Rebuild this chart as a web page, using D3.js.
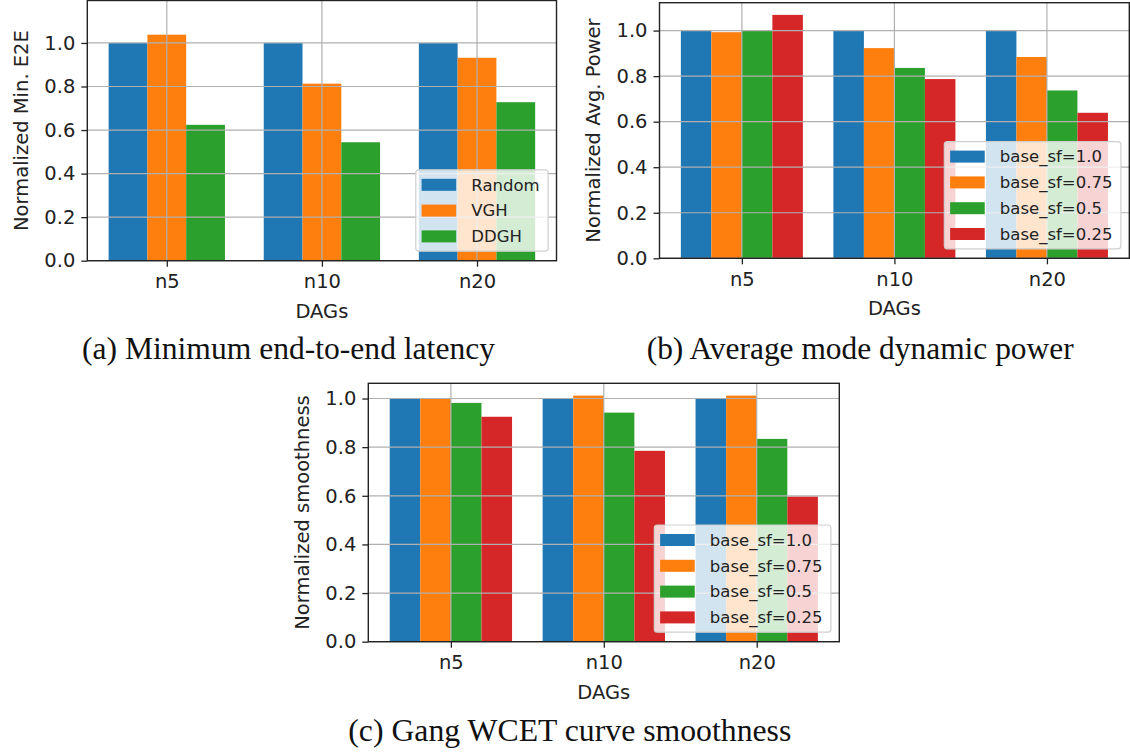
<!DOCTYPE html>
<html>
<head>
<meta charset="utf-8">
<script src="https://cdn.jsdelivr.net/npm/d3@7"></script>
<style>
  body { margin: 0; background: #fff; }
  .tick text { font-family: "DejaVu Sans", sans-serif; font-size: 19.5px; fill: #222; }
  .tick line { stroke: #222; stroke-width: 1.3; }
  .axis-label { font-family: "DejaVu Sans", sans-serif; font-size: 19.5px; fill: #222; }
  .legend text { font-family: "DejaVu Sans", sans-serif; font-size: 16.5px; fill: #222; }
  .caption { font-family: "Liberation Serif", serif; font-size: 31px; fill: #111; }
</style>
</head>
<body>
<svg id="chart" width="1130" height="753"></svg>
<script>
// categories and tick labels
const dags = ["n5", "n10", "n20"];
const yTicks = [0, 0.2, 0.4, 0.6, 0.8, 1.0];
const methodNames = ["Random", "VGH", "DDGH"];
const sfNames = ["base_sf=1.0", "base_sf=0.75", "base_sf=0.5", "base_sf=0.25"];

// (a) normalized minimum e2e latency
const e2eRandom = [1.0, 1.0, 1.0];
const e2eVGH = [1.038, 0.813, 0.932];
const e2eDDGH = [0.624, 0.544, 0.728];

// (b) normalized average power
const powerSf100 = [1.0, 1.0, 1.0];
const powerSf075 = [0.993, 0.923, 0.884];
const powerSf050 = [0.999, 0.836, 0.737];
const powerSf025 = [1.069, 0.787, 0.639];

// (c) normalized smoothness
const smoothSf100 = [1.0, 1.0, 1.0];
const smoothSf075 = [0.999, 1.012, 1.012];
const smoothSf050 = [0.982, 0.942, 0.834];
const smoothSf025 = [0.925, 0.785, 0.597];

const captions = ["(a) Minimum end-to-end latency", "(b) Average mode dynamic power", "(c) Gang WCET curve smoothness"];

const colors = ["#1f77b4", "#ff7f0e", "#2ca02c", "#d62728"];

let svg = d3.select("#chart");

svg.append("rect").attr("width", 1130).attr("height", 753).attr("fill", "#fff");

function drawPanel(box, names, series, ylabel, yMax) {
  let n = series.length;
  let barW = n == 3 ? 0.25 : 0.2;
  let half = (n * barW) / 2;
  let margin = (dags.length - 1 + 2 * half) * 0.05;

  let x = d3.scaleLinear()
    .domain([-half - margin, dags.length - 1 + half + margin])
    .range([box.left, box.right]);

  let top = yMax || d3.max(series.flat()) * 1.05;
  let y = d3.scaleLinear()
    .domain([0, top])
    .range([box.bottom, box.top]);

  let g = svg.append("g");

  // bars
  series.forEach((vals, s) => {
    g.selectAll(".bar" + s)
      .data(vals)
      .enter().append("rect")
      .attr("x", (d, i) => x(i - half + s * barW))
      .attr("width", x(barW) - x(0))
      .attr("y", d => y(d))
      .attr("height", d => y(0) - y(d))
      .attr("fill", colors[s]);
  });

  // grid on top of bars
  g.selectAll(".gy")
    .data(yTicks)
    .enter().append("line")
    .attr("x1", box.left).attr("x2", box.right)
    .attr("y1", d => y(d)).attr("y2", d => y(d))
    .attr("stroke", "#b0b0b0").attr("stroke-width", 1.2);

  g.selectAll(".gx")
    .data(dags)
    .enter().append("line")
    .attr("x1", (d, i) => x(i)).attr("x2", (d, i) => x(i))
    .attr("y1", box.top).attr("y2", box.bottom)
    .attr("stroke", "#b0b0b0").attr("stroke-width", 1.2);

  // axes
  let xAxis = d3.axisBottom(x)
    .tickValues([0, 1, 2])
    .tickFormat(i => dags[i])
    .tickSize(6).tickPadding(6);

  g.append("g")
    .attr("transform", "translate(0," + box.bottom + ")")
    .call(xAxis)
    .call(a => a.select(".domain").remove())
    .selectAll("text").attr("dy", "0.78em");

  let yAxis = d3.axisLeft(y)
    .tickValues(yTicks)
    .tickFormat(d3.format(".1f"))
    .tickSize(6).tickPadding(6);

  g.append("g")
    .attr("transform", "translate(" + box.left + ",0)")
    .call(yAxis)
    .call(a => a.select(".domain").remove());

  g.selectAll(".tick text").attr("font-family", null).attr("font-size", null);

  // frame
  g.append("rect")
    .attr("x", box.left).attr("y", box.top)
    .attr("width", box.right - box.left)
    .attr("height", box.bottom - box.top)
    .attr("fill", "none")
    .attr("stroke", "#222")
    .attr("stroke-width", 1.4);

  g.append("text")
    .attr("class", "axis-label")
    .attr("x", (box.left + box.right) / 2)
    .attr("y", box.bottom + 57)
    .attr("text-anchor", "middle")
    .text("DAGs");

  g.append("text")
    .attr("class", "axis-label")
    .attr("transform", "translate(" + (box.left - 66) + "," + ((box.top + box.bottom) / 2) + ") rotate(-90)")
    .attr("text-anchor", "middle")
    .attr("dy", "0.35em")
    .text(ylabel);

  // legend, lower right
  let legend = g.append("g").attr("class", "legend");
  let bg = legend.append("rect");
  let texts = legend.selectAll("text")
    .data(names)
    .enter().append("text")
    .attr("dy", "0.35em")
    .text(d => d);
  let tw = d3.max(texts.nodes(), t => t.getComputedTextLength());
  let lw = 55.5 + tw + 8.5;
  let lh = names.length * 25.8 + 4;
  let lx = box.right - 8.4 - lw;
  let ly = box.bottom - 9.5 - lh;

  bg.attr("x", lx).attr("y", ly)
    .attr("width", lw).attr("height", lh)
    .attr("rx", 3)
    .attr("fill", "#fff").attr("fill-opacity", 0.8)
    .attr("stroke", "#d0d0d0").attr("stroke-width", 1.2);

  legend.selectAll(".sw")
    .data(names)
    .enter().append("rect")
    .attr("x", lx + 5.8)
    .attr("y", (d, i) => ly + 15 + i * 25.8 - 6)
    .attr("width", 34.6)
    .attr("height", 12)
    .attr("fill", (d, i) => colors[i]);

  texts.attr("x", lx + 55.5)
    .attr("y", (d, i) => ly + 15 + i * 25.8);
}

drawPanel({left: 87.3, right: 556.5, top: 0.5, bottom: 260.7}, methodNames,
  [e2eRandom, e2eVGH, e2eDDGH], "Normalized Min. E2E", 1.195);

drawPanel({left: 659.5, right: 1129.3, top: 2.7, bottom: 258.3}, sfNames,
  [powerSf100, powerSf075, powerSf050, powerSf025], "Normalized Avg. Power");

drawPanel({left: 368.3, right: 839.3, top: 383.3, bottom: 641.7}, sfNames,
  [smoothSf100, smoothSf075, smoothSf050, smoothSf025], "Normalized smoothness");

// sub-figure captions
let capPos = [[82, 359, 413], [646.7, 359, 427], [348.3, 741, 443]];
svg.selectAll(".caption")
  .data(captions)
  .enter().append("text")
  .attr("class", "caption")
  .attr("x", (d, i) => capPos[i][0])
  .attr("y", (d, i) => capPos[i][1])
  .attr("textLength", (d, i) => capPos[i][2])
  .attr("lengthAdjust", "spacingAndGlyphs")
  .text(d => d);
</script>
</body>
</html>
